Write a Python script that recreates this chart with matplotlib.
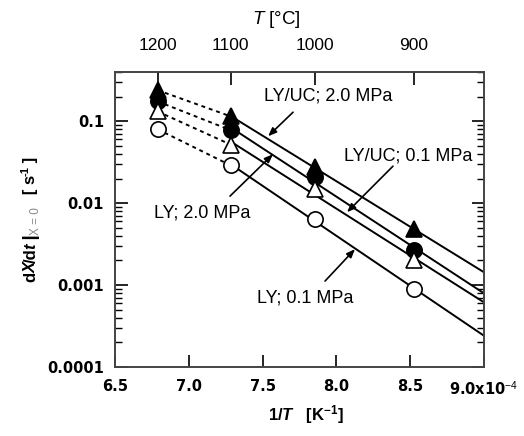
import numpy as np
import matplotlib.pyplot as plt

plt.rcParams['font.family'] = ['Liberation Sans', 'DejaVu Sans']
plt.rcParams['mathtext.fontset'] = 'custom'
plt.rcParams['mathtext.rm'] = 'Liberation Sans'
plt.rcParams['mathtext.it'] = 'Liberation Sans:italic'
plt.rcParams['mathtext.bf'] = 'Liberation Sans:bold'
plt.rcParams['mathtext.bfit'] = 'Liberation Sans:bold:italic'

# temperatures [deg C]
temps_c = [1200, 1100, 1000, 900]
inv_t = [1e4 / (t + 273.15) for t in temps_c]   # 1/T in 1e-4 K^-1

# dX/dt at X=0 [s^-1]
lyuc_20 = [0.24, 0.115, 0.0275, 0.0048]
lyuc_01 = [0.175, 0.078, 0.0207, 0.0027]
ly_20 = [0.132, 0.052, 0.0148, 0.0020]
ly_01 = [0.080, 0.029, 0.0064, 0.00089]

series = [
    (lyuc_20, '^', 'black'),
    (lyuc_01, 'o', 'black'),
    (ly_20, '^', 'white'),
    (ly_01, 'o', 'white'),
]

fig = plt.figure(figsize=(5.24, 4.36), dpi=100)
ax = fig.add_axes([0.2195, 0.1583, 0.7042, 0.6766])

x_end = 9.0
for vals, mk, fc in series:
    # fitted Arrhenius line through 1100-900 C
    p = np.polyfit(inv_t[1:], np.log10(vals[1:]), 1)
    xs = np.array([inv_t[1], x_end])
    ax.plot(xs, 10 ** np.polyval(p, xs), color='black', lw=1.4, zorder=2)
    # dotted link to 1200 C
    ax.plot(inv_t[:2], vals[:2], color='black', lw=1.4, ls=(0, (2, 2)), zorder=2)
    ax.plot(inv_t, vals, ls='none', marker=mk, ms=11, mfc=fc, mec='black',
            mew=1.2, zorder=3)

ax.set_yscale('log')
ax.set_xlim(6.5, 9.0)
ax.set_ylim(1e-4, 0.4)

tick_font = dict(family='DejaVu Sans', weight='bold', size=10.5)
ax.set_xticks([6.5, 7.0, 7.5, 8.0, 8.5, 9.0])
ax.set_xticklabels(['6.5', '7.0', '7.5', '8.0', '8.5', r'9.0x10$^{-4}$'],
                   fontdict=tick_font)
ax.set_yticks([1e-4, 1e-3, 1e-2, 1e-1])
ax.set_yticklabels(['0.0001', '0.001', '0.01', '0.1'], fontdict=tick_font)
ax.tick_params(axis='x', which='both', direction='in', length=9, width=1.2,
               pad=9, top=False)
ax.tick_params(axis='y', which='major', direction='in', length=9, width=1.2,
               pad=8, right=True)
ax.tick_params(axis='y', which='minor', direction='in', length=5, width=1,
               right=True, labelleft=False)
for s in ax.spines.values():
    s.set_color('#444444')
    s.set_linewidth(1.2)

top = ax.twiny()
top.set_xlim(ax.get_xlim())
top.set_xticks(inv_t)
top.set_xticklabels([str(t) for t in temps_c])
top.tick_params(direction='in', length=9, width=1.2, labelsize=12.5, pad=14)
for s in top.spines.values():
    s.set_color('#444444')
    s.set_linewidth(1.2)

fig.text(276 / 524, 1 - 19 / 436, r'$T$ [°C]', fontsize=13.5,
         ha='center', va='center')
fig.text(306 / 524, 1 - 415 / 436, r'1/$\mathbfit{T}$   [K$^{\mathbf{-1}}$]',
         fontsize=12, fontweight='bold', ha='center', va='center')

# y label assembled piece by piece (grey subscript)
fig.canvas.draw()
renderer = fig.canvas.get_renderer()
pieces = [
    ('d', dict(weight='bold'), 0),
    ('X', dict(weight='bold', style='italic'), 0),
    ('/d', dict(weight='bold'), 0),
    ('t', dict(weight='bold', style='italic'), 0),
    (' |', dict(weight='bold', size=14), 0),
    ('X = 0', dict(color='#888888', size=8.5), 5),
    ('   [ s', dict(weight='bold'), 0),
    ('-1', dict(weight='bold', size=8), -5),
    (' ]', dict(weight='bold'), 0),
]
ypos = 154 / 436
for txt, kw, dx in pieces:
    kw = dict(kw)
    kw.setdefault('size', 12)
    t = fig.text((31 + dx) / 524, ypos, txt, rotation=90, ha='center',
                 va='bottom', **kw)
    bb = t.get_window_extent(renderer)
    ypos += bb.height / fig.bbox.height - 1 / 436

arrow = dict(arrowstyle='-|>,head_length=0.5,head_width=0.2', color='black',
             lw=1.2, shrinkA=0, shrinkB=0)
ax.text(7.943, 0.202, 'LY/UC; 2.0 MPa', fontsize=13, ha='center', va='center')
ax.annotate('', xy=(7.537, 0.0657), xytext=(7.706, 0.129), arrowprops=arrow)
ax.text(8.486, 0.0374, 'LY/UC; 0.1 MPa', fontsize=13, ha='center', va='center')
ax.annotate('', xy=(8.072, 0.00776), xytext=(8.383, 0.0283), arrowprops=arrow)
ax.text(7.089, 0.0076, 'LY; 2.0 MPa', fontsize=13, ha='center', va='center')
ax.annotate('', xy=(7.570, 0.0396), xytext=(7.279, 0.0122), arrowprops=arrow)
ax.text(7.787, 0.00069, 'LY; 0.1 MPa', fontsize=13, ha='center', va='center')
ax.annotate('', xy=(8.126, 0.00275), xytext=(7.923, 0.00112), arrowprops=arrow)

fig.savefig('out.png', dpi=100)
